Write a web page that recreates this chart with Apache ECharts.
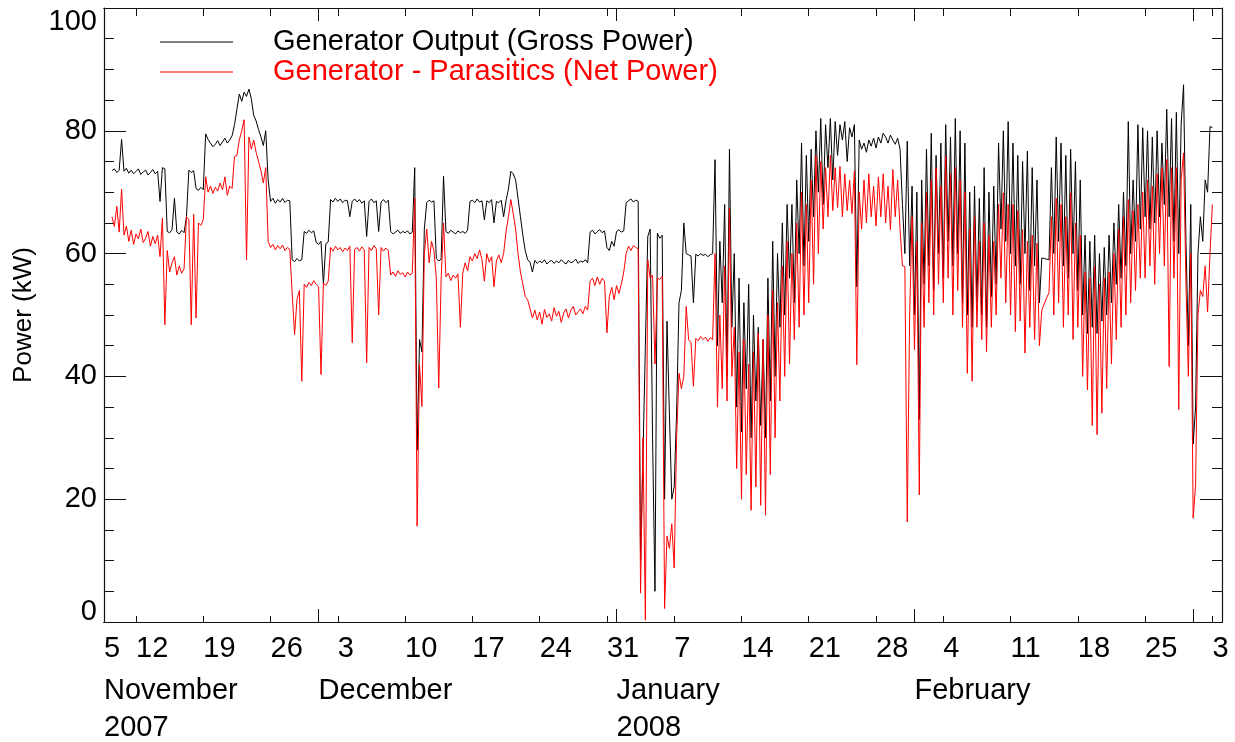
<!DOCTYPE html>
<html>
<head>
<meta charset="utf-8">
<script src="https://cdn.jsdelivr.net/npm/echarts@6/dist/echarts.min.js"></script>
<style>
    html, body { margin: 0; padding: 0; background: #fff; }
    #chart { width: 1235px; height: 742px; }
</style>
</head>
<body>
<div id="chart"></div>
<script>
// time is counted in days from Monday 5 November 2007 (day 0)
var startDay = 4.5;
var stepDay = 0.25;

// generator output (gross power), kW, one value every 6 hours
var grossPower = [
    73.5, 73.8,
    73.2, 73.6, 78.6, 73.4,  73.9, 73.1, 73.6, 73.0,  73.4, 73.8, 72.9, 73.3,  73.6, 72.8, 73.2, 73.7,
    73.0, 73.4, 68.5, 74.0,  73.8, 63.6, 63.4, 63.9,  69.0, 63.5, 63.2, 63.8,  63.4, 66.0, 73.6, 73.2,
    73.5, 70.6, 70.3, 70.8,  70.4, 79.5, 78.6, 78.0,  77.4, 77.8, 78.4, 77.6,  78.2, 78.8, 78.0, 78.5,
    79.2, 81.0, 83.5, 86.0,  84.8, 86.3, 85.6, 86.8,  85.2, 82.5, 81.6, 80.2,  79.0, 77.6, 80.0, 72.0,
    68.5, 69.0, 68.2, 68.8,  68.4, 69.0, 68.3, 68.7,  68.6, 59.0, 58.7, 59.2,  58.8, 59.0, 63.6, 63.3,
    63.8, 63.4, 63.7, 61.8,  61.5, 62.0, 55.0, 61.6,  61.9, 68.8, 68.4, 69.0,  68.5, 68.9, 68.3, 68.7,
    68.6, 66.0, 68.5, 68.9,  68.4, 68.8, 68.2, 68.6,  62.8, 68.5, 68.9, 68.3,  68.6, 63.6, 68.4, 68.8,
    68.3, 68.7, 63.6, 63.2,  63.5, 63.8, 63.3, 63.6,  63.4, 63.7, 63.2, 63.5,  74.0, 28.0, 46.0, 44.0,
    64.0, 68.3, 68.7, 68.4,  68.6, 59.2, 58.8, 59.1,  72.6, 63.6, 63.3, 63.8,  63.5, 63.2, 63.7, 63.4,
    63.6, 63.3, 63.8, 68.5,  68.7, 68.3, 68.9, 68.4,  68.6, 65.5, 68.6, 68.3,  68.8, 65.0, 68.5, 68.3,
    68.7, 66.0, 68.6, 70.5,  73.4, 73.0, 72.0, 69.0,  66.0, 63.0, 60.5, 59.0,  58.6, 57.0, 58.9, 58.4,
    58.8, 58.5, 59.0, 58.3,  58.7, 58.9, 58.4, 58.8,  58.5, 59.0, 58.6, 58.3,  58.9, 58.5, 58.7, 59.1,
    58.4, 58.8, 58.6, 59.0,  58.5, 63.5, 63.8, 63.2,  63.6, 63.9, 63.4, 63.7,  61.0, 60.5, 62.0, 61.2,
    63.6, 63.9, 63.5, 63.7,  68.3, 68.6, 68.9, 68.4,  68.7, 68.5, 10.0, 27.0,  45.0, 62.8, 64.0, 30.0,
    5.0, 63.3, 62.5, 63.0,   20.0, 49.0, 34.0, 20.0,  22.0, 34.0, 52.0, 54.0,  65.0, 60.0, 59.8, 59.6,
    52.0, 59.9, 59.6, 60.0,  59.7, 59.9, 59.5, 59.8,  60.0, 75.3, 45.0, 62.0,  52.0, 68.0, 40.0, 77.0,
    48.0, 60.0, 35.0, 56.0,  31.0, 52.0, 38.0, 55.0,  30.0, 50.0, 36.0, 48.0,  32.0, 46.0, 30.0, 56.0,
    36.0, 62.0, 40.0, 60.0,  48.0, 65.0, 50.0, 68.0,  56.0, 68.0, 52.0, 72.0,  60.0, 78.0, 58.0, 76.0,
    62.0, 77.0, 66.0, 80.0,  70.0, 82.0, 68.0, 81.0,  74.0, 82.0, 72.0, 81.5,  76.0, 81.0, 78.5, 81.5,
    75.0, 80.5, 79.0, 81.0,  54.6, 78.5, 77.0, 78.0,  76.5, 78.5, 77.5, 78.8,  77.2, 79.0, 78.0, 79.6,
    79.0, 78.0, 79.3, 78.5,  77.8, 78.8, 77.0, 68.0,  60.0, 78.3, 58.0, 71.0,  50.0, 70.0, 33.0, 72.0,
    55.0, 77.0, 58.0, 79.6,  54.0, 76.0, 60.0, 78.0,  56.0, 81.0, 62.0, 79.0,  58.0, 82.0, 60.0, 80.0,
    52.0, 78.0, 50.0, 70.0,  48.0, 71.0, 52.0, 69.0,  50.0, 74.0, 48.0, 70.0,  53.0, 71.0, 55.0, 78.0,
    64.0, 80.0, 62.0, 81.5,  60.0, 78.0, 58.0, 76.0,  55.0, 75.0, 60.0, 76.7,  54.0, 74.0, 58.0, 72.0,
    52.0, 59.3, 59.2, 59.1,  59.0, 74.0, 60.0, 79.0,  62.0, 78.0, 58.0, 76.0,  56.0, 77.0, 60.0, 75.0,
    54.0, 72.0, 50.0, 63.0,  47.0, 62.0, 48.0, 63.0,  47.0, 60.0, 49.0, 61.0,  50.0, 63.0, 52.0, 65.0,
    55.0, 68.0, 56.0, 70.0,  58.0, 81.5, 60.0, 72.0,  62.0, 81.0, 64.0, 80.5,  66.0, 80.0, 64.0, 79.0,
    65.0, 80.0, 66.0, 78.0,  68.0, 83.5, 66.0, 82.0,  62.0, 83.0, 60.0, 81.0,  87.5, 62.0, 45.0, 68.0,
    29.0, 35.0, 60.0, 66.0,  62.0, 72.0, 70.0, 80.7,
    80.5
];

// generator minus parasitics (net power), kW, same time steps
var netPower = [
    66.0, 64.4,
    67.7, 63.5, 70.5, 63.0,  64.5, 62.0, 63.8, 61.5,  63.2, 62.4, 64.0, 61.8,  62.5, 63.6, 61.2, 62.8,
    61.6, 63.0, 59.5, 65.8,  48.4, 60.5, 57.0, 58.5,  59.5, 56.5, 58.0, 56.8,  57.5, 66.0, 65.5, 48.4,
    66.4, 49.5, 65.0, 64.6,  65.5, 72.5, 70.0, 71.0,  69.8, 70.8, 70.2, 71.5,  70.4, 72.5, 69.5, 71.0,
    70.6, 75.8, 76.0, 78.5,  80.0, 81.8, 59.0, 79.0,  77.0, 78.5, 76.5, 75.0,  73.5, 71.5, 74.0, 62.0,
    61.0, 61.5, 60.6, 61.3,  60.8, 61.4, 60.5, 61.0,  60.7, 53.5, 46.8, 52.5,  54.0, 39.2, 55.0, 54.5,
    55.3, 54.8, 55.6, 55.0,  54.6, 40.3, 55.2, 54.8,  55.5, 61.0, 60.4, 61.2,  60.6, 61.0, 60.3, 60.9,
    60.5, 61.2, 45.5, 60.7,  61.0, 60.4, 61.1, 60.6,  42.2, 61.0, 60.5, 61.3,  60.8, 50.0, 61.0, 60.4,
    60.9, 60.5, 56.5, 57.0,  56.3, 57.2, 56.6, 56.9,  56.2, 57.0, 56.5, 56.8,  69.0, 15.6, 42.0, 35.1,
    60.0, 64.0, 58.5, 62.0,  60.5, 56.0, 38.1, 55.8,  65.0, 56.2, 56.8, 55.6,  56.5, 56.0, 56.7, 48.0,
    56.8, 58.5, 57.2, 59.5,  58.8, 60.0, 59.2, 60.6,  59.0, 55.5, 60.0, 58.6,  59.5, 54.6, 58.8, 59.8,
    58.5, 60.0, 63.5, 66.0,  68.8, 66.5, 64.0, 60.0,  57.0, 55.0, 53.0, 52.5,  51.0, 49.5, 50.8, 49.2,
    50.5, 48.5, 50.9, 49.6,  50.2, 49.0, 51.2, 49.8,  50.6, 48.8, 50.3, 51.0,  49.5, 50.8, 51.4, 50.0,
    50.5, 51.0, 50.2, 51.4,  50.8, 55.5, 56.0, 54.8,  56.2, 55.0, 56.0, 55.5,  47.1, 53.0, 54.5, 52.5,
    54.8, 53.5, 55.0, 57.0,  60.0, 61.2, 60.5, 61.3,  61.0, 60.8, 4.7, 30.0,   0.3, 59.0, 56.0, 56.5,
    42.0, 56.0, 55.8, 56.3,  2.2, 14.0, 12.0, 16.0,   8.8, 30.0, 40.5, 38.0,   40.0, 51.4, 46.0, 45.5,
    38.4, 46.2, 45.8, 46.5,  46.0, 46.4, 45.7, 46.3,  46.0, 60.0, 35.0, 50.0,  38.0, 58.0, 36.0, 67.4,
    40.0, 48.0, 25.0, 44.0,  20.0, 46.0, 24.0, 42.0,  18.2, 44.0, 22.0, 47.0,  19.0, 46.0, 17.4, 50.0,
    24.0, 54.0, 30.0, 52.0,  36.0, 58.0, 40.0, 62.0,  42.0, 60.0, 46.0, 65.0,  48.0, 70.0, 50.0, 68.0,
    52.0, 72.0, 55.0, 76.0,  60.0, 75.0, 64.0, 74.0,  66.0, 76.0, 67.0, 74.0,  67.5, 74.2, 66.0, 73.0,
    67.0, 72.0, 66.5, 73.5,  41.9, 70.0, 64.0, 72.0,  65.0, 73.0, 66.0, 71.0,  64.5, 72.5, 66.0, 73.0,
    65.0, 71.0, 63.9, 73.7,  66.0, 72.0, 64.0, 58.0,  57.9, 16.3, 50.0, 66.0,  44.3, 62.0, 20.7, 65.0,
    48.0, 70.0, 52.0, 72.0,  50.0, 74.0, 55.0, 71.0,  52.0, 75.8, 56.0, 73.0,  50.0, 74.0, 54.0, 72.0,
    48.0, 70.0, 40.5, 64.0,  39.2, 66.0, 48.0, 62.0,  46.0, 65.0, 44.0, 63.0,  48.0, 62.0, 50.0, 68.0,
    56.0, 69.9, 52.0, 68.0,  50.0, 68.0, 47.3, 67.0,  49.0, 63.9, 43.8, 62.0,  48.0, 63.0, 46.0, 61.7,
    45.0, 50.8, 51.8, 52.8,  53.6, 66.0, 50.0, 69.0,  52.0, 68.0, 48.0, 66.0,  50.0, 69.9, 46.0, 65.0,
    48.0, 63.0, 40.0, 57.0,  37.8, 56.0, 32.0, 57.9,  30.5, 55.0, 34.0, 56.0,  38.0, 57.0, 42.0, 60.0,
    46.0, 64.0, 48.0, 66.0,  50.0, 68.8, 52.0, 67.0,  54.0, 68.0, 56.0, 70.0,  56.0, 72.0, 58.0, 71.0,
    55.0, 73.0, 60.0, 74.0,  58.0, 75.3, 41.6, 74.0,  56.0, 74.0, 34.6, 72.0,  76.4, 55.0, 40.0, 60.0,
    16.9, 22.3, 50.0, 54.0,  53.0, 58.0, 50.5, 60.0,
    68.0
];

// x axis range in days, weekly (Monday) ticks and month starts
var axisMin = 3.67;
var axisMax = 120;
var weekTicks = [7, 14, 21, 28, 35, 42, 49, 56, 63, 70, 77, 84, 91, 98, 105, 112, 119];
var dayLabelPos = [3.67, 7, 14, 21, 28, 35, 42, 49, 56, 63, 70, 77, 84, 91, 98, 105, 112, 119];
var dayLabels = ['5', '12', '19', '26', '3', '10', '17', '24', '31', '7', '14', '21', '28', '4', '11', '18', '25', '3'];
var monthTicks = [26, 57, 88, 117];
var monthLabelPos = [3.67, 26, 57, 88];
var monthLabels = ['November', 'December', 'January', 'February'];
var yearLabelPos = [3.67, 57];
var yearLabels = ['2007', '2008'];

var fontName = '"Liberation Sans", Arial, Helvetica, sans-serif';
var labelSize = 29;

function toPoints(values) {
    return values.map(function(v, i) {
        return [startDay + i * stepDay, v];
    });
}

function labelFor(positions, labels) {
    return function(value) {
        for (var i = 0; i < positions.length; i++) {
            if (Math.abs(positions[i] - value) < 0.01) {
                return labels[i];
            }
        }
        return '';
    };
}

function xAxisFrame(position, tickValues, tickLength, labelValues, labelNames, margin) {
    return {
        type: 'value',
        position: position,
        min: axisMin,
        max: axisMax,
        axisLine: { show: true, onZero: false, lineStyle: { color: '#111', width: 1.2 } },
        axisTick: {
            show: tickValues !== null,
            inside: true,
            length: tickLength,
            customValues: tickValues || [],
            lineStyle: { color: '#111', width: 1 },
        },
        axisLabel: {
            show: labelValues !== null,
            customValues: labelValues || [],
            formatter: labelValues ? labelFor(labelValues, labelNames) : '',
            align: 'left',
            margin: margin,
            color: '#000',
            fontSize: labelSize,
            fontFamily: fontName,
        },
        splitLine: { show: false },
    };
}

function yAxisFrame(position, showLabels) {
    return {
        type: 'value',
        position: position,
        min: 0,
        max: 100,
        interval: 20,
        name: showLabels ? 'Power (kW)' : '',
        nameLocation: 'middle',
        nameGap: 67,
        nameTextStyle: { color: '#000', fontSize: 26, fontFamily: fontName },
        axisLine: { show: true, lineStyle: { color: '#111', width: 1.2 } },
        axisTick: { show: true, inside: true, length: 22, lineStyle: { color: '#111', width: 1 } },
        minorTick: { show: true, splitNumber: 4, length: 10, lineStyle: { color: '#111', width: 1 } },
        axisLabel: {
            show: showLabels,
            margin: 7,
            color: '#000',
            fontSize: labelSize,
            fontFamily: fontName,
            formatter: function(v) {
                if (v === 0) return '{low|0}';
                if (v === 100) return '{high|100}';
                return String(v);
            },
            rich: {
                low: { fontSize: labelSize, fontFamily: fontName, color: '#000', padding: [0, 0, 20, 0] },
                high: { fontSize: labelSize, fontFamily: fontName, color: '#000', padding: [28, 0, 0, 0] },
            },
        },
        splitLine: { show: false },
    };
}

var chart = echarts.init(document.getElementById('chart'), null, { renderer: 'canvas' });

chart.setOption({
    animation: false,
    backgroundColor: '#fff',
    grid: { left: 104, right: 13, top: 8, bottom: 120 },
    legend: {
        orient: 'vertical',
        left: 155,
        top: 22,
        icon: 'rect',
        itemWidth: 73,
        itemHeight: 1,
        itemGap: 0,
        selectedMode: false,
        textStyle: { fontSize: labelSize, fontFamily: fontName, lineHeight: 30, padding: [0, 0, 0, 35] },
        data: [
            { name: 'Generator Output (Gross Power)', textStyle: { color: '#000' } },
            { name: 'Generator - Parasitics (Net Power)', textStyle: { color: '#ff0000' } },
        ],
    },
    xAxis: [
        xAxisFrame('bottom', weekTicks, 6, dayLabelPos, dayLabels, 12),
        xAxisFrame('bottom', monthTicks, 13, monthLabelPos, monthLabels, 54),
        xAxisFrame('bottom', null, 0, yearLabelPos, yearLabels, 91),
        xAxisFrame('top', weekTicks, 8, null, null, 0),
        xAxisFrame('top', monthTicks, 13, null, null, 0),
    ],
    yAxis: [
        yAxisFrame('left', true),
        yAxisFrame('right', false),
    ],
    series: [
        {
            name: 'Generator Output (Gross Power)',
            type: 'line',
            xAxisIndex: 0,
            yAxisIndex: 0,
            symbol: 'none',
            silent: true,
            lineStyle: { color: '#000', width: 1 },
            itemStyle: { color: '#000' },
            data: toPoints(grossPower),
        },
        {
            name: 'Generator - Parasitics (Net Power)',
            type: 'line',
            xAxisIndex: 0,
            yAxisIndex: 0,
            symbol: 'none',
            silent: true,
            lineStyle: { color: '#ff0000', width: 1 },
            itemStyle: { color: '#ff0000' },
            data: toPoints(netPower),
        },
    ],
});
</script>
</body>
</html>
